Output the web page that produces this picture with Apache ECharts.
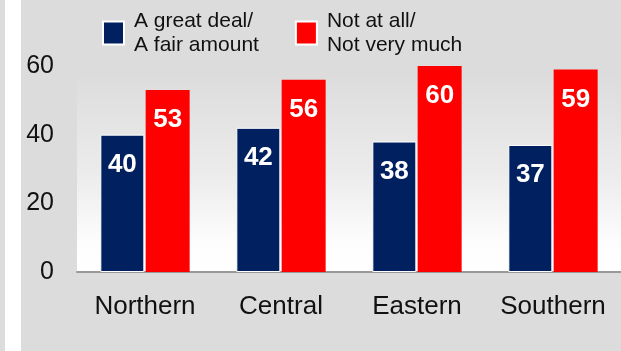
<!DOCTYPE html>
<html>
<head>
<meta charset="utf-8">
<script src="https://cdn.jsdelivr.net/npm/echarts@6/dist/echarts.min.js"></script>
<style>
html,body{margin:0;padding:0;background:#dcdcdc;}
#c{width:621px;height:351px;}
</style>
</head>
<body>
<div id="c"></div>
<script>
var categories = ['Northern', 'Central', 'Eastern', 'Southern'];
var seriesNames = ['A great deal/\nA fair amount', 'Not at all/\nNot very much'];
var greatDeal = [40, 42, 38, 37];
var notAtAll = [53, 56, 60, 59];
var yTicks = [0, 20, 40, 60];

var chart = echarts.init(document.getElementById('c'), null, {renderer: 'canvas'});
var font = 'Arial, "Liberation Sans", sans-serif';
var labelStyle = {
  show: true, position: 'insideTop', distance: 17,
  color: '#ffffff', fontFamily: font, fontWeight: 'bold', fontSize: 26
};
chart.setOption({
  backgroundColor: '#dcdcdc',
  animation: false,
  graphic: [
    {type: 'rect', left: 5, top: 0, shape: {width: 16, height: 351}, style: {fill: '#ffffff'}, silent: true},
    {type: 'rect', left: 77, top: 78, z: -10, shape: {width: 544, height: 194},
     style: {fill: new echarts.graphic.LinearGradient(0, 0, 0, 1, [
       {offset: 0, color: '#dddddd'}, {offset: 0.5, color: '#ececec'}, {offset: 0.85, color: '#fdfdfd'}, {offset: 1, color: '#ffffff'}])},
     silent: true}
  ],
  legend: {
    left: 97, top: 4, itemWidth: 21, itemHeight: 23, itemGap: 36,
    icon: 'rect',
    itemStyle: {borderColor: '#ffffff', borderWidth: 2},
    textStyle: {fontFamily: font, fontSize: 21, lineHeight: 24, color: '#111111', padding: [0, 0, 0, 5]},
    data: seriesNames
  },
  grid: {left: 77, right: 0, top: 66, bottom: 79},
  xAxis: {
    type: 'category', data: categories,
    axisLine: {show: true, lineStyle: {color: '#999999', width: 2}},
    axisTick: {show: false},
    axisLabel: {interval: 0, fontFamily: font, fontSize: 26, color: '#111111', margin: 22}
  },
  yAxis: {
    type: 'value', min: yTicks[0], max: yTicks[yTicks.length - 1], interval: 20,
    axisLine: {show: false}, axisTick: {show: false}, splitLine: {show: false},
    axisLabel: {fontFamily: font, fontSize: 25, color: '#111111', margin: 23}
  },
  series: [
    {name: seriesNames[0], type: 'bar', data: greatDeal, barWidth: 44, barGap: '3%',
     itemStyle: {color: '#002060', borderColor: '#ffffff', borderWidth: 1}, label: labelStyle},
    {name: seriesNames[1], type: 'bar', data: notAtAll, barWidth: 44,
     itemStyle: {color: '#ff0000', borderWidth: 0}, label: labelStyle}
  ]
});
</script>
</body>
</html>
